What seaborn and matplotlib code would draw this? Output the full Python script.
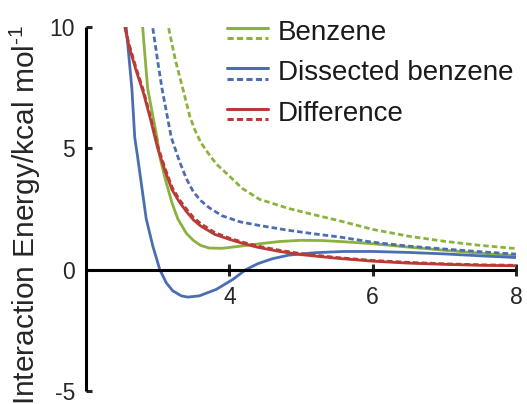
import matplotlib
matplotlib.use("Agg")
import matplotlib.pyplot as plt
from matplotlib.lines import Line2D
from matplotlib.legend_handler import HandlerBase
import seaborn as sns
import pandas as pd

# ---- data ----
benz_x = [2.76, 2.79, 2.86, 2.99, 3.03, 3.1, 3.2, 3.28, 3.4, 3.5, 3.6, 3.72, 3.9, 4.1, 4.4, 4.7, 5.0, 5.3, 5.6, 6.0, 6.5, 7.0, 7.5, 8.0]
benz_y = [10.3, 10.0, 7.47, 5.45, 4.65, 3.8, 2.75, 2.1, 1.5, 1.2, 1.0, 0.89, 0.88, 0.95, 1.06, 1.16, 1.21, 1.2, 1.15, 1.07, 0.93, 0.8, 0.68, 0.58]

benz_d_x = [3.13, 3.15, 3.25, 3.35, 3.45, 3.52, 3.6, 3.7, 3.82, 3.96, 4.18, 4.42, 4.83, 5.2, 5.53, 6.0, 6.5, 7.0, 7.5, 8.0]
benz_d_y = [10.3, 10.0, 8.6, 7.47, 6.3, 5.75, 5.25, 4.82, 4.35, 3.97, 3.35, 2.9, 2.52, 2.25, 2.02, 1.66, 1.38, 1.17, 1.0, 0.87]

diss_x = [2.55, 2.56, 2.64, 2.68, 2.72, 2.84, 2.93, 3.03, 3.12, 3.21, 3.33, 3.42, 3.58, 3.82, 4.05, 4.23, 4.4, 4.6, 4.83, 5.2, 5.6, 6.0, 6.5, 7.0, 7.5, 8.0]
diss_y = [10.3, 10.0, 7.47, 5.45, 4.65, 2.1, 1.0, 0.0, -0.54, -0.87, -1.08, -1.13, -1.08, -0.81, -0.4, 0.0, 0.25, 0.45, 0.6, 0.7, 0.75, 0.75, 0.71, 0.65, 0.57, 0.5]

diss_d_x = [2.91, 2.93, 3.0, 3.06, 3.19, 3.3, 3.4, 3.5, 3.6, 3.72, 3.9, 4.15, 4.42, 4.83, 5.2, 5.53, 6.0, 6.5, 7.0, 7.5, 8.0]
diss_d_y = [10.3, 10.0, 8.6, 7.47, 5.45, 4.5, 3.75, 3.2, 2.85, 2.55, 2.22, 1.97, 1.82, 1.62, 1.47, 1.35, 1.13, 0.97, 0.85, 0.74, 0.64]

diff_x = [2.52, 2.6, 2.7, 2.8, 2.9, 3.0, 3.1, 3.2, 3.3, 3.4, 3.5, 3.6, 3.8, 4.0, 4.2, 4.4, 4.7, 5.0, 5.5, 6.0, 6.5, 7.0, 7.5, 8.0]
diff_y = [10.3, 9.2, 8.2, 7.3, 6.2, 5.0, 4.1, 3.3, 2.8, 2.4, 2.05, 1.8, 1.45, 1.25, 1.07, 0.92, 0.75, 0.62, 0.47, 0.35, 0.27, 0.22, 0.18, 0.16]

diff_d_x = [2.52, 2.6, 2.7, 2.8, 2.9, 3.0, 3.1, 3.2, 3.3, 3.4, 3.5, 3.6, 3.8, 4.0, 4.2, 4.4, 4.7, 5.0, 5.5, 6.0, 6.5, 7.0, 7.5, 8.0]
diff_d_y = [10.3, 9.3, 8.3, 7.4, 6.3, 5.1, 4.2, 3.4, 2.9, 2.5, 2.15, 1.9, 1.52, 1.3, 1.12, 0.97, 0.8, 0.66, 0.5, 0.38, 0.3, 0.24, 0.2, 0.18]

labels = ["Benzene", "Dissected benzene", "Difference"]
x_ticks = [4, 6, 8]
y_ticks = [-5, 0, 5, 10]

GREEN = "#8AB23C"
BLUE = "#4B6DB2"
RED = "#B93B35"

sns.set_style("white")
plt.rcParams["font.family"] = ["Liberation Sans", "DejaVu Sans"]
plt.rcParams["mathtext.default"] = "regular"

fig = plt.figure(figsize=(5.27, 4.04), dpi=100)
ax = fig.add_axes([86 / 527, 13 / 404, 430 / 527, 364 / 404])

LW = 2.0
DASH = (0, (2.0, 1.1))

series = [
    (benz_x, benz_y, GREEN, "-"),
    (benz_d_x, benz_d_y, GREEN, DASH),
    (diss_x, diss_y, BLUE, "-"),
    (diss_d_x, diss_d_y, BLUE, DASH),
    (diff_d_x, diff_d_y, RED, DASH),
    (diff_x, diff_y, RED, "-"),
]
for xs, ys, c, ls in series:
    df = pd.DataFrame({"x": xs, "y": ys})
    sns.lineplot(data=df, x="x", y="y", ax=ax, color=c, linestyle=ls,
                 linewidth=LW, estimator=None, sort=False, legend=False)

ax.set_xlim(2, 8)
ax.set_ylim(-5, 10)
ax.set_xticks(x_ticks)
ax.set_yticks(y_ticks)
ax.set_xticklabels([str(t) for t in x_ticks])
ax.set_yticklabels([str(t) for t in y_ticks])
ax.set_xlabel("")
ax.set_ylabel("Interaction Energy/kcal mol$^{\u2010 1}$", fontsize=21.5)
ax.yaxis.set_label_coords(-0.101, 0.485)

for s in ["top", "right"]:
    ax.spines[s].set_visible(False)
ax.spines["bottom"].set_position(("data", 0))
for s in ["left", "bottom"]:
    ax.spines[s].set_linewidth(2.2)
    ax.spines[s].set_color("black")
    ax.spines[s].set_capstyle("butt")

ax.tick_params(axis="y", direction="in", length=4, width=2.2, labelsize=16.5, pad=8, left=True)
ax.tick_params(axis="x", direction="inout", length=9, width=2.2, labelsize=16.5, pad=7, bottom=True)


class ColorHandle:
    def __init__(self, c):
        self.c = c


class TwoLineHandler(HandlerBase):
    def create_artists(self, legend, orig_handle, xdescent, ydescent, width, height, fontsize, trans):
        color = orig_handle.c
        x0, x1 = -xdescent, -xdescent + width
        y_solid = -ydescent + 0.62 * height
        y_dash = -ydescent + 0.08 * height
        l1 = Line2D([x0, x1], [y_solid, y_solid], color=color, linewidth=2.2,
                    linestyle="-", transform=trans)
        l2 = Line2D([x0, x1], [y_dash, y_dash], color=color, linewidth=2.2,
                    linestyle=(0, (2.0, 1.1)), transform=trans)
        return [l1, l2]


handles = [ColorHandle(GREEN), ColorHandle(BLUE), ColorHandle(RED)]
leg = fig.legend(handles, labels, handler_map={ColorHandle: TwoLineHandler()},
                 loc="upper left", bbox_to_anchor=(227 / 527, 1 - 20 / 404),
                 frameon=False, fontsize=20, handlelength=1.47, handletextpad=0.36,
                 labelspacing=0.52, borderpad=0, borderaxespad=0)
for t in leg.get_texts():
    t.set_color("#1a1a1a")

fig.savefig("out.png", dpi=100)
